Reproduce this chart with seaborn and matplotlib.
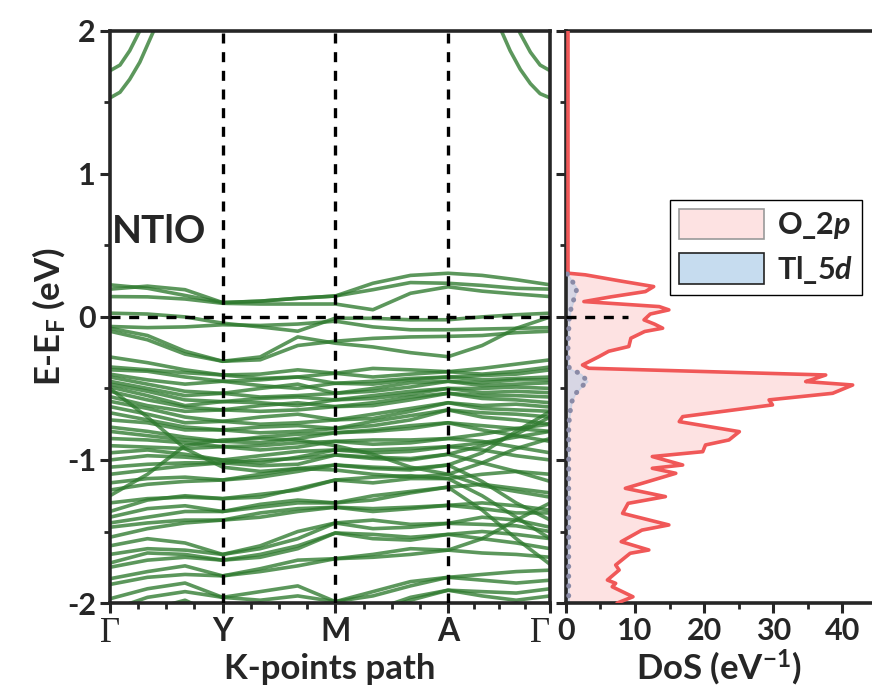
import numpy as np
import pandas as pd
import matplotlib
matplotlib.use("Agg")
import matplotlib.pyplot as plt
from matplotlib.patches import Patch
import seaborn as sns

# ---------------- data ----------------
kpoint_labels = ["Γ", "Y", "M", "A", "Γ"]
kdist = [0.0, 0.256, 0.512, 0.768, 1.0]

# conduction bands near the two Γ ends (own k samples)
cb_left_k = [0.0, 0.023, 0.045, 0.068, 0.091, 0.114]
cb1_left = [1.72, 1.76, 1.86, 2.00, 2.17, 2.40]
cb2_left = [1.53, 1.57, 1.66, 1.78, 1.94, 2.10]
cb_right_k = [1.0, 0.977, 0.955, 0.932, 0.909, 0.886]
cb1_right = [1.72, 1.76, 1.85, 1.98, 2.13, 2.35]
cb2_right = [1.53, 1.56, 1.63, 1.73, 1.86, 2.02]

# valence band energies (eV) at Γ, 1/3, 2/3, Y, 1/3, 2/3, M, 1/3, 2/3, A, 1/3, 2/3, Γ
v1 = [0.224, 0.20, 0.15, 0.10, 0.11, 0.13, 0.146, 0.235, 0.29, 0.305, 0.29, 0.26, 0.224]
v2 = [0.194, 0.215, 0.19, 0.10, 0.11, 0.13, 0.146, 0.19, 0.24, 0.235, 0.22, 0.20, 0.194]
v3 = [0.142, 0.14, 0.125, 0.095, 0.09, 0.09, 0.09, 0.05, 0.165, 0.21, 0.18, 0.16, 0.142]
d1 = [0.026, 0.02, 0.0, -0.044, -0.07, -0.10, -0.009, -0.01, -0.02, -0.02, 0.0, 0.015, 0.026]
d2 = [-0.067, -0.075, -0.07, -0.055, -0.06, -0.05, -0.03, -0.07, -0.09, -0.09, -0.085, -0.08, -0.075]
d3 = [-0.079, -0.13, -0.24, -0.31, -0.28, -0.14, -0.184, -0.21, -0.25, -0.278, -0.2, -0.08, 0.0]
d4 = [-0.10, -0.16, -0.26, -0.31, -0.30, -0.20, -0.17, -0.15, -0.14, -0.136, -0.13, -0.11, -0.10]
p1a = [-0.28, -0.32, -0.37, -0.406, -0.40, -0.37, -0.394, -0.42, -0.40, -0.383, -0.36, -0.33, -0.30]
p1b = [-0.35, -0.37, -0.39, -0.406, -0.43, -0.42, -0.394, -0.36, -0.37, -0.383, -0.40, -0.38, -0.35]
p2a = [-0.37, -0.38, -0.42, -0.45, -0.44, -0.42, -0.464, -0.45, -0.43, -0.42, -0.41, -0.40, -0.37]
p2b = [-0.40, -0.44, -0.47, -0.45, -0.48, -0.50, -0.464, -0.47, -0.44, -0.42, -0.44, -0.43, -0.42]
p3a = [-0.42, -0.47, -0.52, -0.534, -0.50, -0.47, -0.534, -0.50, -0.46, -0.45, -0.46, -0.44, -0.44]
p3b = [-0.45, -0.50, -0.55, -0.534, -0.56, -0.55, -0.534, -0.52, -0.49, -0.45, -0.48, -0.47, -0.46]
p4a = [-0.47, -0.52, -0.58, -0.592, -0.57, -0.56, -0.58, -0.55, -0.52, -0.50, -0.50, -0.49, -0.50]
p4b = [-0.49, -0.55, -0.62, -0.592, -0.60, -0.62, -0.58, -0.57, -0.54, -0.50, -0.53, -0.52, -0.53]
p5a = [-0.52, -0.58, -0.63, -0.65, -0.62, -0.60, -0.627, -0.60, -0.56, -0.534, -0.55, -0.55, -0.56]
p5b = [-0.557, -0.62, -0.66, -0.65, -0.66, -0.65, -0.627, -0.62, -0.58, -0.534, -0.57, -0.58, -0.60]
p6a = [-0.59, -0.64, -0.70, -0.73, -0.70, -0.68, -0.72, -0.68, -0.64, -0.60, -0.62, -0.61, -0.63]
p6b = [-0.627, -0.68, -0.74, -0.73, -0.75, -0.74, -0.72, -0.71, -0.66, -0.60, -0.64, -0.65, -0.66]
p7a = [-0.67, -0.72, -0.77, -0.79, -0.77, -0.76, -0.78, -0.73, -0.69, -0.65, -0.67, -0.68, -0.70]
p7b = [-0.72, -0.74, -0.79, -0.79, -0.81, -0.80, -0.78, -0.76, -0.72, -0.65, -0.70, -0.72, -0.75]
p8a = [-0.77, -0.80, -0.84, -0.87, -0.84, -0.82, -0.81, -0.79, -0.76, -0.74, -0.76, -0.78, -0.80]
p8b = [-0.80, -0.83, -0.86, -0.87, -0.88, -0.85, -0.81, -0.80, -0.78, -0.74, -0.79, -0.83, -0.87]
p9a = [-0.85, -0.86, -0.88, -0.907, -0.90, -0.88, -0.87, -0.86, -0.86, -0.85, -0.87, -0.91, -0.95]
p9b = [-0.90, -0.91, -0.92, -0.907, -0.93, -0.91, -0.87, -0.89, -0.88, -0.85, -0.82, -0.78, -0.75]
p10a = [-0.95, -0.93, -0.96, -1.0, -0.97, -0.94, -0.93, -0.93, -0.92, -0.907, -0.93, -0.97, -1.0]
p10b = [-1.0, -0.97, -0.98, -1.0, -1.02, -0.98, -0.93, -0.95, -0.94, -0.907, -0.88, -0.84, -0.80]
p11a = [-1.05, -1.03, -1.02, -1.02, -1.00, -0.99, -0.965, -0.98, -0.99, -0.96, -1.02, -1.08, -1.15]
p11b = [-1.10, -1.07, -1.04, -1.02, -1.04, -1.03, -0.965, -0.99, -1.00, -0.96, -0.90, -0.82, -0.70]
p12a = [-1.16, -1.13, -1.12, -1.14, -1.10, -1.06, -1.035, -1.05, -1.06, -1.035, -1.15, -1.30, -1.42]
p12b = [-1.21, -1.17, -1.15, -1.14, -1.12, -1.08, -1.035, -1.06, -1.07, -1.035, -0.95, -0.80, -0.66]
p13a = [-1.30, -1.27, -1.26, -1.27, -1.24, -1.21, -1.14, -1.16, -1.13, -1.13, -1.25, -1.40, -1.55]
p13b = [-1.36, -1.28, -1.25, -1.27, -1.26, -1.20, -1.14, -1.12, -1.11, -1.13, -1.10, -1.08, -1.10]
p14a = [-1.40, -1.34, -1.32, -1.36, -1.31, -1.28, -1.30, -1.25, -1.22, -1.19, -1.35, -1.55, -1.73]
p14b = [-1.44, -1.40, -1.36, -1.36, -1.33, -1.30, -1.30, -1.28, -1.23, -1.19, -1.17, -1.20, -1.23]
p15a = [-1.47, -1.44, -1.42, -1.42, -1.37, -1.34, -1.33, -1.34, -1.33, -1.317, -1.30, -1.32, -1.35]
p15b = [-1.54, -1.48, -1.44, -1.42, -1.40, -1.36, -1.33, -1.36, -1.34, -1.317, -1.34, -1.37, -1.37]
p16a = [-1.60, -1.55, -1.58, -1.66, -1.62, -1.55, -1.44, -1.42, -1.45, -1.443, -1.40, -1.42, -1.47]
p16b = [-1.66, -1.62, -1.63, -1.66, -1.60, -1.50, -1.44, -1.48, -1.47, -1.443, -1.45, -1.46, -1.50]
p17a = [-1.72, -1.65, -1.66, -1.70, -1.66, -1.60, -1.51, -1.52, -1.54, -1.52, -1.50, -1.52, -1.55]
p17b = [-1.75, -1.70, -1.68, -1.70, -1.68, -1.62, -1.51, -1.55, -1.56, -1.52, -1.55, -1.58, -1.62]
p18a = [-1.83, -1.78, -1.74, -1.81, -1.76, -1.70, -1.69, -1.66, -1.62, -1.63, -1.55, -1.42, -1.30]
p18b = [-1.87, -1.82, -1.80, -1.81, -1.78, -1.74, -1.69, -1.68, -1.66, -1.63, -1.65, -1.66, -1.68]
p19a = [-1.97, -1.90, -1.86, -1.96, -1.92, -1.88, -1.99, -1.92, -1.85, -1.82, -1.80, -1.78, -1.77]
p19b = [-2.05, -1.96, -1.92, -1.96, -1.98, -1.95, -1.99, -1.95, -1.88, -1.82, -1.84, -1.86, -1.84]
p20a = [-2.10, -2.05, -1.98, -2.10, -2.08, -2.02, -2.10, -2.05, -1.96, -1.91, -1.92, -1.93, -1.90]
p20b = [-2.20, -2.10, -2.05, -2.10, -2.12, -2.08, -2.10, -2.06, -1.98, -1.91, -1.95, -1.98, -1.95]
x1 = [-0.50, -0.70, -0.92, -1.05, -1.08, -1.06, -1.07, -1.10, -1.12, -1.10, -1.02, -0.92, -0.85]
x2 = [-1.25, -1.10, -0.90, -0.86, -0.85, -0.86, -0.90, -0.96, -1.05, -1.10, -1.18, -1.22, -1.26]

valence_bands = [v1, v2, v3, d1, d2, d3, d4,
                 p1a, p1b, p2a, p2b, p3a, p3b, p4a, p4b, p5a, p5b, p6a, p6b,
                 p7a, p7b, p8a, p8b, p9a, p9b, p10a, p10b, p11a, p11b, p12a, p12b,
                 p13a, p13b, p14a, p14b, p15a, p15b, p16a, p16b, p17a, p17b,
                 p18a, p18b, p19a, p19b, p20a, p20b, x1, x2]

# projected DOS (states/eV) vs energy
o2p_E = [2.0, 0.31, 0.305, 0.294, 0.25, 0.212, 0.177, 0.14, 0.107, 0.072, 0.049, 0.02,
         -0.021, -0.05, -0.079, -0.102, -0.149, -0.207, -0.24, -0.277, -0.336, -0.359,
         -0.406, -0.44, -0.452, -0.476, -0.534, -0.58, -0.615, -0.697, -0.732, -0.802,
         -0.86, -0.895, -0.942, -0.976, -1.035, -1.058, -1.093, -1.198, -1.256, -1.303,
         -1.373, -1.454, -1.49, -1.571, -1.629, -1.652, -1.734, -1.769, -1.839, -1.862,
         -1.886, -1.956, -2.0]
o2p_dos = [0.3, 0.3, 0.4, 2.8, 8.0, 12.7, 11.5, 6.5, 2.6, 13.5, 14.9, 12.2,
           11.3, 12.8, 14.0, 11.4, 9.4, 9.1, 6.2, 4.8, 2.4, 3.3,
           37.6, 35.5, 34.7, 41.5, 38.6, 29.4, 29.9, 16.9, 16.4, 25.1,
           23.6, 20.2, 19.8, 12.5, 16.9, 12.5, 15.9, 8.6, 14.4, 9.0,
           8.2, 14.9, 11.0, 8.0, 12.0, 9.3, 7.2, 7.7, 6.0, 7.2,
           6.7, 9.7, 7.4]
tl5d_E = [0.30, 0.25, 0.20, 0.15, 0.10, 0.05, 0.0, -0.1, -0.2, -0.3, -0.36, -0.40,
          -0.45, -0.5, -0.55, -0.6, -0.7, -0.8, -1.0, -1.2, -1.4, -1.6, -1.8, -2.0]
tl5d_dos = [0.2, 0.9, 1.6, 1.3, 1.0, 0.7, 0.5, 0.4, 0.3, 0.3, 0.5, 2.2,
            3.1, 2.0, 1.2, 0.8, 0.5, 0.4, 0.4, 0.4, 0.4, 0.4, 0.4, 0.4]
fermi_level = 0.0
fermi_mark_dos = 9.0

# ---------------- style ----------------
sns.set_style("ticks")
plt.rcParams["font.family"] = ["Lato", "DejaVu Sans"]
plt.rcParams["font.weight"] = "bold"
plt.rcParams["mathtext.fontset"] = "custom"
plt.rcParams["mathtext.rm"] = "Lato:bold"
plt.rcParams["mathtext.bf"] = "Lato:bold"
plt.rcParams["mathtext.it"] = "Lato:italic:bold"

fig = plt.figure(figsize=(8.72, 6.98), dpi=100)
ax = fig.add_axes([0.126, 0.136, 0.505, 0.820])
ax2 = fig.add_axes([0.649, 0.136, 0.351, 0.820])

# ---------------- band structure ----------------
kgrid = np.concatenate([np.linspace(a, b, 4)[:-1] for a, b in zip(kdist[:-1], kdist[1:])] + [[kdist[-1]]])
rows = []
uid = 0
for b in valence_bands:
    for k, e in zip(kgrid, b):
        rows.append((uid, k, e))
    uid += 1
for kk, b in [(cb_left_k, cb1_left), (cb_left_k, cb2_left),
              (cb_right_k, cb1_right), (cb_right_k, cb2_right)]:
    for k, e in zip(kk, b):
        rows.append((uid, k, e))
    uid += 1
df = pd.DataFrame(rows, columns=["band", "k", "E"])
sns.lineplot(data=df, x="k", y="E", units="band", estimator=None, ax=ax,
             color="#2e7a2e", alpha=0.78, lw=2.6, legend=False)

for k in kdist[1:-1]:
    ax.axvline(k, color="black", lw=2.4, ls=(0, (3, 2.6)), zorder=3)
ax.axhline(fermi_level, color="black", lw=2.4, ls=(0, (3, 2.6)), zorder=3)

ax.set_xlim(kdist[0], kdist[-1])
ax.set_ylim(-2, 2)
ax.set_xticks(kdist)
ax.set_xticklabels(kpoint_labels)
minor_k = []
for a, b in zip(kdist[:-1], kdist[1:]):
    minor_k += list(np.linspace(a, b, 5)[1:-1])
ax.set_xticks(minor_k, minor=True)
ax.set_yticks([-2, -1, 0, 1, 2])
ax.set_yticks([-1.5, -0.5, 0.5, 1.5], minor=True)
ax.set_yticklabels(["-2", "-1", "0", "1", "2"])
ax.tick_params(axis="both", which="major", direction="out", length=7, width=2.2,
               labelsize=22, pad=3)
ax.tick_params(axis="both", which="minor", direction="out", length=4, width=2.0)
xlabs = ax.get_xticklabels()
for lab in xlabs:
    if lab.get_text() == "Γ":
        lab.set_fontfamily(["Liberation Serif", "DejaVu Serif"])
        lab.set_fontweight("normal")
        lab.set_fontsize(25)
    else:
        lab.set_fontsize(23)
xlabs[-1].set_horizontalalignment("right")
for s in ax.spines.values():
    s.set_linewidth(2.6)
ax.set_xlabel("K-points path", fontsize=25, fontweight="bold", labelpad=2)
ax.set_ylabel(r"E-E$_{\mathbf{F}}$ (eV)", fontsize=25, fontweight="bold", labelpad=0)
ax.text(0.005, 0.649, "NTlO", transform=ax.transAxes, fontsize=28,
        fontweight="bold", ha="left", va="center")

# ---------------- DOS ----------------
ax2.fill_betweenx(o2p_E, 0, o2p_dos, color="#fde2e2", zorder=1)
ax2.fill_betweenx(tl5d_E, 0, tl5d_dos, color="#b8cde6", alpha=0.55, zorder=2)
sns.lineplot(x=o2p_dos, y=o2p_E, sort=False, estimator=None, ax=ax2,
             color="#f05858", lw=2.6, zorder=3)
sns.lineplot(x=tl5d_dos, y=tl5d_E, sort=False, estimator=None, ax=ax2,
             color="#8a8aa6", lw=3.6, ls=(0, (0.05, 1.9)), zorder=4,
             dash_capstyle="round")
ax2.plot([0, fermi_mark_dos], [fermi_level, fermi_level], color="black", lw=2.4,
         ls=(0, (3, 2.6)), zorder=5)
ax2.set_xlim(0, 44.3)
ax2.set_ylim(-2, 2)
ax2.set_xticks([0, 10, 20, 30, 40])
ax2.set_xticks([5, 15, 25, 35], minor=True)
ax2.set_yticks([-2, -1, 0, 1, 2])
ax2.set_yticks([-1.5, -0.5, 0.5, 1.5], minor=True)
ax2.set_yticklabels([])
ax2.tick_params(axis="both", which="major", direction="out", length=7, width=2.2,
                labelsize=22, pad=3)
ax2.tick_params(axis="both", which="minor", direction="out", length=4, width=2.0)
for s in ax2.spines.values():
    s.set_linewidth(2.6)
ax2.spines["right"].set_visible(False)
ax2.set_xlabel(r"DoS (eV$^{\mathbf{-1}}$)", fontsize=25, fontweight="bold", labelpad=2)
ax2.set_ylabel("")

handles = [Patch(facecolor="#fde2e2", edgecolor="#999999", lw=1.2),
           Patch(facecolor="#c6dcef", edgecolor="#222222", lw=1.2)]
leg = ax2.legend(handles, [r"O_2$\mathit{p}$", r"Tl_5$\mathit{d}$"],
                 loc="upper right", bbox_to_anchor=(0.967, 0.705), fontsize=22,
                 frameon=True, fancybox=False, edgecolor="black", framealpha=1,
                 handlelength=2.8, handleheight=1.15, labelspacing=0.4,
                 borderpad=0.3, handletextpad=0.4, borderaxespad=0)
leg.get_frame().set_linewidth(1.0)

fig.savefig("out.png", dpi=100)
